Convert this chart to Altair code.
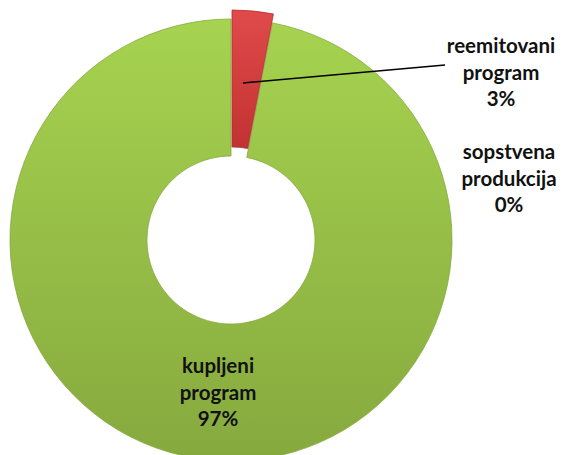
import altair as alt
import pandas as pd

# ---- data ----
categories = ["reemitovani program", "kupljeni program", "sopstvena produkcija"]
values = [3, 97, 0]
colors_top = ["#e04a4a", "#a6d350", "#4f81bd"]
colors_bottom = ["#c23232", "#86a93e", "#3a6aa0"]

# ---- layout (pixels, chart coordinates) ----
CX, CY = 223, 232
R_OUT, R_IN = 221, 84
EXPLODE = (1, -9)
LABEL_POS = {
    "reemitovani program": (493, 39),
    "sopstvena produkcija": (501, 145),
    "kupljeni program": (210, 359),
}
LEADER = ((235, 75), (437, 57))

rows = []
start = 0
for c, v in zip(categories, values):
    rows.append({"cat": c, "value": v, "start": start, "end": start + v,
                 "label": c.replace(" ", "\n") + "\n" + f"{v}%"})
    start += v
df = pd.DataFrame(rows)

theta_scale = alt.Scale(domain=[0, 100], range=[0, 6.283185307179586])


def grad(top, bottom):
    return alt.LinearGradient(
        gradient="linear",
        stops=[alt.GradientStop(color=top, offset=0),
               alt.GradientStop(color=bottom, offset=1)],
        x1=0, x2=0, y1=0, y2=1,
    )


base = alt.Chart(df)

green = base.transform_filter(alt.datum.cat == "kupljeni program").mark_arc(
    radius=R_OUT, radius2=R_IN, fill=grad(colors_top[1], colors_bottom[1]),
    stroke="#86a93e", strokeWidth=0.8,
).encode(
    theta=alt.Theta("start:Q", scale=theta_scale),
    theta2="end:Q",
    x=alt.value(CX), y=alt.value(CY),
)

red = base.transform_filter(alt.datum.cat == "reemitovani program").mark_arc(
    radius=R_OUT, radius2=R_IN, fill=grad(colors_top[0], colors_bottom[0]),
    stroke="#b03030", strokeWidth=0.8,
).encode(
    theta=alt.Theta("start:Q", scale=theta_scale),
    theta2="end:Q",
    x=alt.value(CX + EXPLODE[0]), y=alt.value(CY + EXPLODE[1]),
)

leader = alt.Chart(pd.DataFrame({"a": [0]})).mark_rule(
    color="#000000", strokeWidth=1.5
).encode(
    x=alt.value(LEADER[0][0]), y=alt.value(LEADER[0][1]),
    x2=alt.value(LEADER[1][0]), y2=alt.value(LEADER[1][1]),
)

labels = []
for c in categories:
    lx, ly = LABEL_POS[c]
    labels.append(
        base.transform_filter(alt.datum.cat == c).mark_text(
            font="Lato", fontWeight="bold", fontSize=20.5, lineBreak="\n",
            lineHeight=26.5, align="center", baseline="middle", color="#111111",
        ).encode(text="label:N", x=alt.value(lx), y=alt.value(ly))
    )

chart = alt.layer(green, red, leader, *labels).properties(
    width=548, height=447,
    autosize=alt.AutoSizeParams(type="none"),
    padding=0,
).configure_view(stroke=None)

chart.save("out.html", embed_options={"renderer": "svg", "actions": False})
